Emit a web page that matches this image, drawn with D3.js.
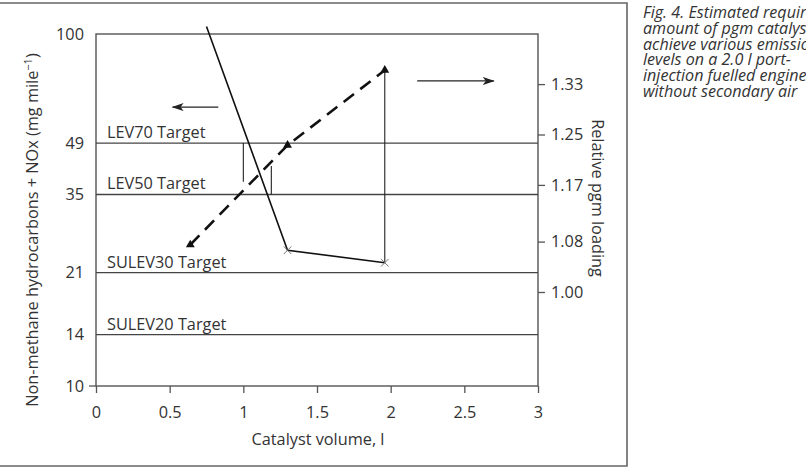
<!DOCTYPE html>
<html>
<head>
<meta charset="utf-8">
<script src="https://cdn.jsdelivr.net/npm/d3@7"></script>
<style>
  body { margin: 0; background: #fff; }
  svg text { font-family: "Open Sans", sans-serif; fill: #333; }
</style>
</head>
<body>
<div id="chart"></div>
<script>
(function () {

  /***** Data *****/
  // HC + NOx emissions (left axis, log scale)
  var hcVolume = [0.75, 1.30, 1.96]
  var hcValue = [105, 24.3, 22.4]
  // relative pgm loading (right axis)
  var pgmVolume = [0.64, 1.30, 1.96]
  var pgmValue = [1.075, 1.233, 1.352]
  // emission targets
  var targetNames = ["LEV70 Target", "LEV50 Target", "SULEV30 Target", "SULEV20 Target"]
  var targetValues = [49, 35, 21, 14]
  var leftTicks = [10, 14, 21, 35, 49, 100]
  var rightTicks = [1.00, 1.08, 1.17, 1.25, 1.33]
  var xTicks = [0, 0.5, 1, 1.5, 2, 2.5, 3]
  var caption = ["Fig. 4. Estimated required", "amount of pgm catalyst to",
                 "achieve various emission", "levels on a 2.0 l port-",
                 "injection fuelled engine", "without secondary air"]

  /***** Configuration *****/
  var margin = { top: 34, right: 268, bottom: 84, left: 96 }
  var width = 806 - margin.left - margin.right
  var height = 470 - margin.top - margin.bottom
  var fs = 16.3

  var svg = d3.select("#chart").append("svg")
      .attr("width", 806)
      .attr("height", 470)

  // outer frame (left side cut off)
  svg.append("path")
      .attr("d", "M0,3H627V466H0")
      .attr("fill", "none")
      .attr("stroke", "#666")
      .attr("stroke-width", 1.6)

  var g = svg.append("g")
      .attr("transform", "translate(" + margin.left + "," + margin.top + ")")

  var x = d3.scaleLinear().domain([0, 3]).range([0, width])
  var yL = d3.scaleLog().domain([10, 100]).range([height, 0])
  // right axis: 1.00 sits 94px above the bottom, 630px per unit
  var yR = d3.scaleLinear()
      .domain([1.0 - 94 / 630, 1.0 + (height - 94) / 630])
      .range([height, 0])

  // plot box
  g.append("rect")
      .attr("width", width).attr("height", height)
      .attr("fill", "none").attr("stroke", "#555").attr("stroke-width", 1.4)

  // target lines
  g.selectAll(".target").data(targetValues).enter().append("line")
      .attr("x1", 0).attr("x2", width)
      .attr("y1", d => yL(d)).attr("y2", d => yL(d))
      .attr("stroke", "#444").attr("stroke-width", 1.3)

  g.selectAll(".tlabel").data(targetNames).enter().append("text")
      .attr("x", 11)
      .attr("y", (d, i) => yL(targetValues[i]) - 5)
      .attr("font-size", fs)
      .text(d => d)

  // axes
  var xAxis = g.append("g")
      .attr("transform", "translate(0," + height + ")")
      .call(d3.axisBottom(x).tickValues(xTicks).tickSize(7).tickPadding(13)
        .tickFormat(d3.format("~g")))
  var yAxisL = g.append("g")
      .call(d3.axisLeft(yL).tickValues(leftTicks).tickSize(0).tickPadding(12)
        .tickFormat(d3.format("d")))
  var yAxisR = g.append("g")
      .attr("transform", "translate(" + width + ",0)")
      .call(d3.axisRight(yR).tickValues(rightTicks).tickSize(7).tickPadding(6)
        .tickFormat(d3.format(".2f")))

  ;[xAxis, yAxisL, yAxisR].forEach(function (a) {
    a.select(".domain").remove()
    a.selectAll("line").attr("stroke", "#555").attr("stroke-width", 1.3)
    a.selectAll("text").attr("font-size", fs).attr("fill", "#333")
      .attr("font-family", "\"Open Sans\", sans-serif")
  })
  // the only left tick mark, at 10
  g.append("line")
      .attr("x1", -7).attr("x2", 0)
      .attr("y1", yL(10)).attr("y2", yL(10))
      .attr("stroke", "#555").attr("stroke-width", 1.3)

  // axis titles
  g.append("text")
      .attr("transform", "translate(-58," + (height / 2 + 20) + ") rotate(-90)")
      .attr("text-anchor", "middle").attr("font-size", fs)
      .html("Non-methane hydrocarbons + NOx (mg mile<tspan dy='-6' font-size='11'>−1</tspan><tspan dy='6'>)</tspan>")
  g.append("text")
      .attr("transform", "translate(" + (width + 54) + "," + (height / 2 - 12) + ") rotate(90)")
      .attr("text-anchor", "middle").attr("font-size", fs)
      .text("Relative pgm loading")
  g.append("text")
      .attr("x", 222).attr("y", height + 59)
      .attr("text-anchor", "middle").attr("font-size", fs)
      .text("Catalyst volume, l")

  // drop lines from curves to targets
  var dropX = [1.0, 1.19, 1.96]
  var dropFrom = [yL(49), yR(1.2), yR(pgmValue[2])]
  var dropTo = [yR(1.175), yL(35), yL(hcValue[2])]
  g.selectAll(".drop").data(dropX).enter().append("line")
      .attr("x1", d => x(d)).attr("x2", d => x(d))
      .attr("y1", (d, i) => dropFrom[i]).attr("y2", (d, i) => dropTo[i])
      .attr("stroke", "#222").attr("stroke-width", 1.1)

  // HC + NOx line
  var hcLine = d3.line().x((d, i) => x(hcVolume[i])).y(d => yL(d))
  g.append("path").datum(hcValue)
      .attr("d", hcLine)
      .attr("fill", "none").attr("stroke", "#111").attr("stroke-width", 1.6)
  g.selectAll(".cross").data(hcValue.slice(1)).enter().append("path")
      .attr("transform", (d, i) => "translate(" + x(hcVolume[i + 1]) + "," + yL(d) + ")")
      .attr("d", d3.symbol(d3.symbolTimes, 40))
      .attr("fill", "none").attr("stroke", "#777").attr("stroke-width", 1)

  // pgm loading line
  var pgmLine = d3.line().x((d, i) => x(pgmVolume[i])).y(d => yR(d))
  g.append("path").datum(pgmValue)
      .attr("d", pgmLine)
      .attr("fill", "none").attr("stroke", "#111").attr("stroke-width", 2.6)
      .attr("stroke-dasharray", "13,8")
  g.selectAll(".tri").data(pgmValue).enter().append("path")
      .attr("transform", (d, i) => "translate(" + x(pgmVolume[i]) + "," + yR(d) + ")")
      .attr("d", d3.symbol(d3.symbolTriangle, 34))
      .attr("fill", "#111")

  // direction arrows
  svg.append("defs").append("marker")
      .attr("id", "ah").attr("viewBox", "0 0 12 8")
      .attr("refX", 11).attr("refY", 4)
      .attr("markerWidth", 12).attr("markerHeight", 8)
      .attr("markerUnits", "userSpaceOnUse").attr("orient", "auto")
      .append("path").attr("d", "M0,0L12,4L0,8L3,4Z").attr("fill", "#222")
  var arrows = [[0.83, 0.52, 62], [2.18, 2.70, 1.335]]
  g.append("line")
      .attr("x1", x(arrows[0][0])).attr("x2", x(arrows[0][1]))
      .attr("y1", yL(arrows[0][2])).attr("y2", yL(arrows[0][2]))
      .attr("stroke", "#222").attr("stroke-width", 1.2).attr("marker-end", "url(#ah)")
  g.append("line")
      .attr("x1", x(arrows[1][0])).attr("x2", x(arrows[1][1]))
      .attr("y1", yR(arrows[1][2])).attr("y2", yR(arrows[1][2]))
      .attr("stroke", "#222").attr("stroke-width", 1.2).attr("marker-end", "url(#ah)")

  // caption
  svg.append("g").selectAll("text").data(caption).enter().append("text")
      .attr("x", 643).attr("y", (d, i) => 18 + i * 15.8)
      .attr("font-size", 16.1).attr("font-style", "italic")
      .text(d => d)

})()
</script>
</body>
</html>
